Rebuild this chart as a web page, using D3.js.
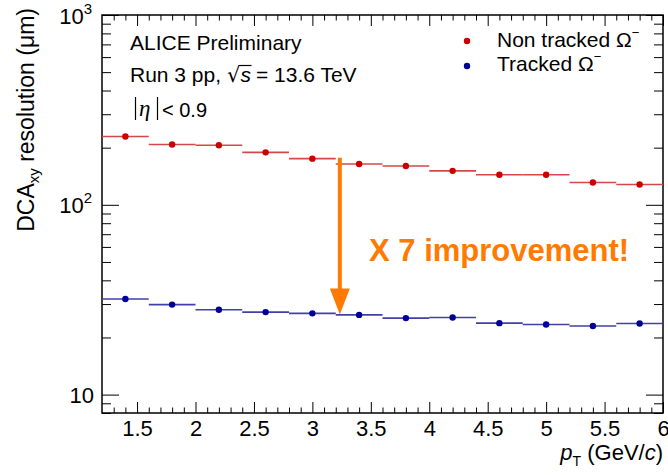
<!DOCTYPE html>
<html><head><meta charset="utf-8">
<script src="https://cdn.jsdelivr.net/npm/d3@7/dist/d3.min.js"></script>
<style>
body{margin:0;background:#fff}
svg{display:block;font-family:"Liberation Sans",Arial,Helvetica,sans-serif}
text{white-space:pre}
</style>
</head><body>
<svg id="c" width="668" height="475"></svg>
<script>
// ---- data ----
const binEdges = [1.2,1.6,2.0,2.4,2.8,3.2,3.6,4.0,4.4,4.8,5.2,5.6,6.0];
const ptCenters = [1.4,1.8,2.2,2.6,3.0,3.4,3.8,4.2,4.6,5.0,5.4,5.8];
const nonTracked = [229,208,206,189,175,164,160,151,144,144,131,128];
const tracked = [31.9,29.8,28.0,27.2,26.8,26.3,25.3,25.5,23.8,23.4,23.0,23.7];
const xMajorTicks = [1.5,2,2.5,3,3.5,4,4.5,5,5.5,6];
const xTickLabels = ["1.5","2","2.5","3","3.5","4","4.5","5","5.5","6"];
const yMajorTicks = [10,100,1000];
const yTickExponents = ["", "2", "3"];
const arrowX = [3.235];
const arrowRange = [177, 26.4];

// ---- layout ----
const L = 102, R = 663, T = 15, B = 413;
const svg = d3.select("#c");
const x = d3.scaleLinear().domain([1.2, 6]).range([L, R]);
const y = d3.scaleLog().domain([8, 1000]).range([B, T]);

const xMinor = d3.range(13, 60).map(v => v / 10).filter(v => Math.abs(v*2 - Math.round(v*2)) > 1e-6);
const yMinor = [];
[1, 10, 100].forEach(d => { for (let k = 2; k <= 9; k++) { const v = k * d; if (v >= 8 && v < 1000 && v !== 10 && v !== 100) yMinor.push(v); } });

function styleAxis(g){ g.select(".domain").remove(); g.selectAll("line").attr("stroke","#000").attr("stroke-width",1); }

// bottom
svg.append("g").attr("transform",`translate(0,${B})`)
  .call(d3.axisBottom(x).tickValues(xMinor).tickSize(-5.5).tickFormat("")).call(styleAxis);
const xb = svg.append("g").attr("transform",`translate(0,${B})`)
  .call(d3.axisBottom(x).tickValues(xMajorTicks).tickSize(-11).tickPadding(8)
    .tickFormat((d,i)=>xTickLabels[i])).call(styleAxis);
xb.selectAll("text").attr("font-size",22).attr("fill","#000").attr("dy",null).attr("y",23)
  .attr("font-family","'Liberation Sans',Arial,sans-serif");
// top
svg.append("g").attr("transform",`translate(0,${T})`)
  .call(d3.axisTop(x).tickValues(xMinor).tickSize(-5.5).tickFormat("")).call(styleAxis);
svg.append("g").attr("transform",`translate(0,${T})`)
  .call(d3.axisTop(x).tickValues(xMajorTicks).tickSize(-11).tickFormat("")).call(styleAxis);
// left
svg.append("g").attr("transform",`translate(${L},0)`)
  .call(d3.axisLeft(y).tickValues(yMinor).tickSize(-9).tickFormat("")).call(styleAxis);
const yl = svg.append("g").attr("transform",`translate(${L},0)`)
  .call(d3.axisLeft(y).tickValues(yMajorTicks).tickSize(-17).tickFormat(()=>"")).call(styleAxis);
yl.selectAll(".tick").each(function(d,i){
  const t = d3.select(this).select("text").attr("dy",null).attr("y",8).attr("fill","#000")
    .attr("font-size",22).attr("text-anchor","end");
  if (yTickExponents[i] === "") { t.attr("x",-8).text("10"); }
  else {
    t.attr("x",-10);
    t.append("tspan").text("10");
    t.append("tspan").attr("font-size",15).attr("dy",-10).text(yTickExponents[i]);
  }
});
// right
svg.append("g").attr("transform",`translate(${R},0)`)
  .call(d3.axisRight(y).tickValues(yMinor).tickSize(-9).tickFormat("")).call(styleAxis);
svg.append("g").attr("transform",`translate(${R},0)`)
  .call(d3.axisRight(y).tickValues(yMajorTicks).tickSize(-17).tickFormat("")).call(styleAxis);

// frame
svg.append("rect").attr("x",L).attr("y",T).attr("width",R-L).attr("height",B-T)
  .attr("fill","none").attr("stroke","#000").attr("stroke-width",1.5);

// series
function drawSeries(vals, lineCol, dotCol){
  const g = svg.append("g");
  g.selectAll("line").data(vals).join("line")
    .attr("x1",(d,i)=>x(binEdges[i])).attr("x2",(d,i)=>x(binEdges[i+1]))
    .attr("y1",d=>y(d)).attr("y2",d=>y(d))
    .attr("stroke",lineCol).attr("stroke-width",1.6);
  g.selectAll("circle").data(vals).join("circle")
    .attr("cx",(d,i)=>x(ptCenters[i])).attr("cy",d=>y(d)).attr("r",3.2).attr("fill",dotCol);
}
drawSeries(nonTracked, "#d44848", "#cc0000");
drawSeries(tracked, "#4040a8", "#000099");

// arrow annotation
const orange = "#ff7a00";
const ax = x(arrowX[0]), ay1 = y(arrowRange[0]), ay2 = y(arrowRange[1]);
svg.append("line").attr("x1",ax).attr("x2",ax).attr("y1",ay1).attr("y2",ay2-24)
  .attr("stroke",orange).attr("stroke-width",4);
svg.append("path").attr("d",`M${ax-10},${ay2-26} L${ax+10},${ay2-26} L${ax},${ay2} Z`).attr("fill",orange);
svg.append("text").attr("x",369).attr("y",261).attr("font-size",31).attr("font-weight","bold")
  .attr("fill",orange).text("X 7 improvement!");

// labels
svg.append("text").attr("x",130).attr("y",50).attr("font-size",21).text("ALICE Preliminary");
const run = svg.append("g");
const t1 = run.append("text").attr("x",130).attr("y",82).attr("font-size",21).text("Run 3 pp,");
let cx = 130 + t1.node().getComputedTextLength() + 6;
const rad = run.append("text").attr("x",cx).attr("y",82).attr("font-size",21).attr("font-family","'DejaVu Sans',sans-serif").text("√");
const rw = rad.node().getComputedTextLength();
cx += rw;
const st = run.append("text").attr("x",cx).attr("y",82).attr("font-size",21).attr("font-style","italic").text("s");
const sw = st.node().getComputedTextLength();
run.append("line").attr("x1",cx-1).attr("x2",cx+sw+0.5).attr("y1",65.5).attr("y2",65.5).attr("stroke","#000").attr("stroke-width",1.2);
run.append("text").attr("x",cx+sw+5).attr("y",82).attr("font-size",21).text("= 13.6 TeV");

// |eta| < 0.9
svg.append("line").attr("x1",135.5).attr("x2",135.5).attr("y1",97).attr("y2",120).attr("stroke","#000").attr("stroke-width",1.2);
svg.append("text").attr("x",139).attr("y",116).attr("font-size",23).attr("font-style","italic")
  .attr("font-family","'Liberation Serif','Times New Roman',serif").text("η");
svg.append("line").attr("x1",157.5).attr("x2",157.5).attr("y1",97).attr("y2",120).attr("stroke","#000").attr("stroke-width",1.2);
svg.append("text").attr("x",162).attr("y",117).attr("font-size",20).text("< 0.9");

// legend
const legend = [["Non tracked Ω","#cc0000",41,47],["Tracked Ω","#000099",66,71]];
legend.forEach(([lab,col,dy,by])=>{
  svg.append("circle").attr("cx",467).attr("cy",dy).attr("r",3.2).attr("fill",col);
  const tx = svg.append("text").attr("x",497).attr("y",by).attr("font-size",21);
  tx.append("tspan").text(lab);
  tx.append("tspan").attr("font-size",13).attr("dy",-10).text("−");
});

// axis titles
const xt = svg.append("text").attr("x",663).attr("y",460).attr("text-anchor","end").attr("font-size",22);
xt.append("tspan").attr("font-style","italic").text("p");
xt.append("tspan").attr("font-size",14).attr("dy",6).text("T");
xt.append("tspan").attr("dy",-6).text(" (GeV/");
xt.append("tspan").attr("font-style","italic").text("c");
xt.append("tspan").text(")");

const yt = svg.append("text").attr("transform","translate(34,8) rotate(-90)").attr("text-anchor","end").attr("font-size",23);
yt.append("tspan").text("DCA");
yt.append("tspan").attr("font-size",15).attr("dy",5).text("xy");
yt.append("tspan").attr("dy",-5).text(" resolution (μm)");
</script>
</body></html>
